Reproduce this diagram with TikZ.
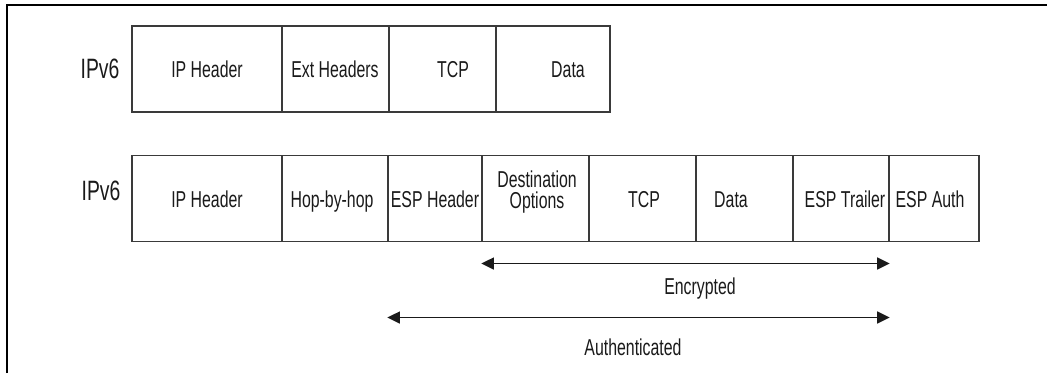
\documentclass[tikz,border=0pt]{standalone}
\usepackage{fontspec}
\setmainfont{Liberation Sans}[FakeStretch=0.69]
\usetikzlibrary{arrows.meta}
\definecolor{rule}{HTML}{3A3A3A}
\definecolor{ink}{HTML}{1A1A1A}
\tikzset{
  cell/.style={draw=rule, line width=1.2pt, minimum height=86pt, inner sep=0pt},
  txt/.style={text=ink, font=\fontsize{23}{24}\selectfont, inner sep=0pt,
              text height=16.5pt, text depth=0pt},
  ver/.style={text=ink, font=\fontsize{28}{29}\selectfont, inner sep=0pt,
              text height=20pt, text depth=0pt},
  span/.style={draw=ink, line width=1.5pt,
               {Triangle[length=12.5pt,width=12pt]}-{Triangle[length=12.5pt,width=12pt]}},
  frame/.style={draw=black, line width=2pt}
}
\begin{document}
\begin{tikzpicture}[x=1pt,y=-1pt]
\useasboundingbox (0,0) rectangle (1047,373);

% border along the top and left side
\coordinate (fr-bl) at (6.5,373);
\coordinate (fr-tl) at (6.5,5);
\coordinate (fr-tr) at (1047,5);
\draw[frame] (fr-bl) -- (fr-tl) -- (fr-tr);

% plain IPv6 packet
\node[ver] (v1) at (100,68) {IPv6};
\node[cell, minimum width=150pt] (a-ip)   at (207,69)   {};
\node[cell, minimum width=107pt] (a-ext)  at (335.5,69) {};
\node[cell, minimum width=107pt] (a-tcp)  at (442.5,69) {};
\node[cell, minimum width=114pt] (a-data) at (553,69)   {};
\node[txt] (a-ip-t)   at (207,69) {IP Header};
\node[txt] (a-ext-t)  at (335,69) {Ext Headers};
\node[txt] (a-tcp-t)  at (453,69) {TCP};
\node[txt] (a-data-t) at (568,69) {Data};

% IPv6 packet with ESP
\node[ver] (v2) at (101,190) {IPv6};
\node[cell, minimum width=150pt] (b-ip)   at (207,198.5)   {};
\node[cell, minimum width=106pt] (b-hop)  at (335,198.5)   {};
\node[cell, minimum width=94pt]  (b-esph) at (435,198.5)   {};
\node[cell, minimum width=107pt] (b-dst)  at (535.5,198.5) {};
\node[cell, minimum width=107pt] (b-tcp)  at (642.5,198.5) {};
\node[cell, minimum width=97pt]  (b-data) at (744.5,198.5) {};
\node[cell, minimum width=96pt]  (b-espt) at (841,198.5)   {};
\node[cell, minimum width=90pt]  (b-auth) at (934,198.5)   {};
\node[txt] (b-ip-t)   at (207,199) {IP Header};
\node[txt] (b-hop-t)  at (332,199) {Hop-by-hop};
\node[txt] (b-esph-t) at (435,199) {ESP Header};
\node[text=ink, font=\fontsize{23}{21}\selectfont, inner sep=0pt, align=center]
     (b-dst-t) at (537,192) {Destination\\Options};
\node[txt] (b-tcp-t)  at (644,199) {TCP};
\node[txt] (b-data-t) at (731,199) {Data};
\node[txt] (b-espt-t) at (845,199) {ESP Trailer};
\node[txt] (b-auth-t) at (930,199) {ESP Auth};

% coverage of encryption and authentication
\coordinate (enc-y) at (0,263.5);
\coordinate (auth-y) at (0,317.5);
\draw[span] (b-dst.west |- enc-y) -- (b-espt.east |- enc-y);
\draw[span] (b-esph.west |- auth-y) -- (b-espt.east |- auth-y);
\node[txt] (enc-t)  at (700,286) {Encrypted};
\node[txt] (auth-t) at (633,347) {Authenticated};
\end{tikzpicture}
\end{document}
